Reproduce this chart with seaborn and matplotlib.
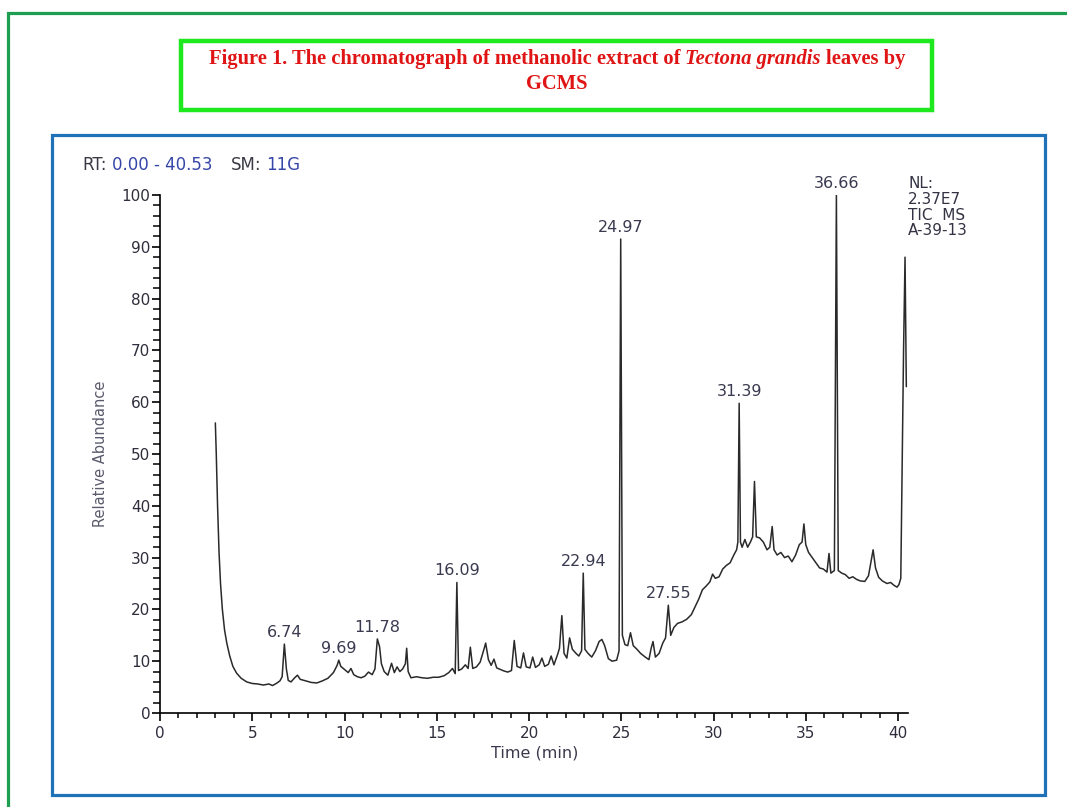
import numpy as np
import pandas as pd
import matplotlib
matplotlib.use("Agg")
import matplotlib.pyplot as plt
import seaborn as sns
from matplotlib.patches import Rectangle
from matplotlib.ticker import MultipleLocator

# ---------------- data ----------------
times = [3.00, 3.05, 3.12, 3.20, 3.28, 3.38, 3.50, 3.62, 3.78, 3.95, 4.15, 4.40, 4.70, 5.00,
         5.30, 5.60, 5.90, 6.10, 6.30, 6.50, 6.62, 6.74, 6.85, 6.95, 7.10, 7.30, 7.45, 7.60,
         7.90, 8.20, 8.50, 8.80, 9.10, 9.40, 9.60, 9.69, 9.80, 10.00, 10.20, 10.35, 10.50,
         10.70, 10.90, 11.10, 11.30, 11.50, 11.65, 11.78, 11.90, 12.00, 12.15, 12.35, 12.55,
         12.70, 12.85, 13.00, 13.15, 13.30, 13.37, 13.45, 13.60, 13.90, 14.20, 14.50, 14.80,
         15.10, 15.40, 15.65, 15.85, 16.00, 16.09, 16.18, 16.35, 16.55, 16.70, 16.82, 16.95,
         17.15, 17.35, 17.55, 17.65, 17.80, 17.95, 18.10, 18.25, 18.45, 18.65, 18.85, 19.05,
         19.20, 19.35, 19.55, 19.70, 19.85, 20.05, 20.20, 20.35, 20.55, 20.70, 20.85, 21.05,
         21.20, 21.35, 21.55, 21.65, 21.78, 21.90, 22.05, 22.20, 22.35, 22.55, 22.70, 22.85,
         22.94, 23.03, 23.20, 23.40, 23.60, 23.80, 23.95, 24.10, 24.30, 24.50, 24.75, 24.88,
         24.97, 25.06, 25.20, 25.35, 25.50, 25.65, 25.85, 26.05, 26.30, 26.50, 26.62, 26.72,
         26.85, 27.05, 27.25, 27.40, 27.55, 27.68, 27.85, 28.05, 28.30, 28.55, 28.80, 29.00,
         29.20, 29.40, 29.60, 29.80, 29.95, 30.10, 30.30, 30.50, 30.70, 30.90, 31.10, 31.25,
         31.32, 31.39, 31.46, 31.55, 31.70, 31.85, 32.00, 32.12, 32.22, 32.32, 32.50, 32.70,
         32.90, 33.05, 33.18, 33.28, 33.45, 33.65, 33.85, 34.05, 34.25, 34.45, 34.65, 34.80,
         34.90, 35.00, 35.15, 35.35, 35.55, 35.75, 35.95, 36.15, 36.26, 36.36, 36.55, 36.66,
         36.76, 36.95, 37.15, 37.35, 37.55, 37.75, 37.95, 38.20, 38.40, 38.55, 38.65, 38.78,
         38.95, 39.15, 39.40, 39.60, 39.80, 39.95, 40.05, 40.15, 40.30, 40.38, 40.45]
abundance = [56.0, 50.0, 40.0, 31.0, 25.0, 20.0, 16.0, 13.5, 11.0, 9.0, 7.7, 6.7, 6.0, 5.7,
             5.6, 5.4, 5.6, 5.3, 5.7, 6.2, 7.0, 13.3, 8.5, 6.3, 6.0, 6.8, 7.3, 6.5,
             6.2, 5.9, 5.8, 6.2, 6.7, 7.8, 9.2, 10.2, 9.0, 8.4, 7.8, 8.6, 7.4,
             7.0, 6.8, 7.1, 7.9, 7.4, 8.5, 14.3, 12.8, 9.5, 8.0, 7.3, 9.6,
             7.8, 8.9, 8.0, 8.5, 9.5, 12.5, 8.0, 6.8, 7.0, 6.8, 6.7, 6.9,
             6.9, 7.2, 7.8, 8.6, 7.6, 25.2, 8.2, 8.5, 9.3, 8.6, 12.7, 8.6,
             8.9, 9.8, 12.2, 13.5, 10.3, 9.2, 10.4, 8.7, 8.4, 8.1, 7.9, 8.2,
             14.0, 9.0, 8.7, 11.6, 8.9, 8.7, 10.8, 8.8, 9.3, 10.6, 9.0, 9.4,
             11.0, 9.3, 11.3, 12.5, 18.8, 11.5, 10.6, 14.5, 12.3, 11.5, 11.0, 12.0,
             27.0, 12.3, 11.5, 10.8, 12.0, 13.8, 14.2, 13.0, 10.5, 10.0, 10.2, 12.0,
             91.5, 15.0, 13.2, 13.0, 15.5, 13.0, 12.3, 11.5, 10.8, 10.3, 12.5, 13.8,
             10.8, 11.5, 13.5, 14.5, 20.8, 15.0, 16.5, 17.3, 17.6, 18.1, 19.0, 20.5,
             22.0, 23.8, 24.5, 25.3, 26.8, 26.0, 26.3, 27.8, 28.5, 29.0, 30.5, 31.5,
             33.0, 59.8, 33.0, 32.0, 33.5, 32.0, 33.0, 34.0, 44.7, 34.0, 33.8, 33.0,
             31.5, 32.0, 36.0, 31.5, 30.5, 31.0, 30.0, 30.3, 29.2, 30.5, 32.5, 33.0,
             36.5, 32.5, 31.0, 30.0, 29.0, 28.0, 27.8, 27.2, 30.8, 27.0, 27.5, 100.0,
             27.5, 27.0, 26.7, 26.0, 26.3, 25.8, 25.5, 25.4, 26.5, 29.5, 31.5, 28.0,
             26.2, 25.5, 25.0, 25.2, 24.6, 24.3, 24.8, 26.0, 70.0, 88.0, 63.0]

peak_labels = ["6.74", "9.69", "11.78", "16.09", "22.94", "24.97", "27.55", "31.39", "36.66"]
peak_times = [6.74, 9.69, 11.78, 16.09, 22.94, 24.97, 27.55, 31.39, 36.66]
peak_heights = [13.3, 10.2, 14.3, 25.2, 27.0, 91.5, 20.8, 59.8, 100.0]

x_ticks = [0, 5, 10, 15, 20, 25, 30, 35, 40]
y_ticks = [0, 10, 20, 30, 40, 50, 60, 70, 80, 90, 100]
info_lines = ["NL:", "2.37E7", "TIC  MS", "A-39-13"]

# ---------------- figure ----------------
W, H = 1067, 807
sns.set_theme(style="ticks")
plt.rcParams["font.family"] = ["DejaVu Sans"]
plt.rcParams["axes.facecolor"] = "white"
plt.rcParams["figure.facecolor"] = "white"

fig = plt.figure(figsize=(W / 100, H / 100), dpi=100)


def fx(px):
    return px / W


def fy(py):
    return 1 - py / H


# frames
fig.patches.append(Rectangle((fx(8), fy(850)), fx(1120) - fx(8), fy(13) - fy(850),
                             transform=fig.transFigure, fill=False, ec="#1d9e50", lw=2.3))
fig.patches.append(Rectangle((fx(52), fy(795)), fx(1045) - fx(52), fy(135) - fy(795),
                             transform=fig.transFigure, fill=False, ec="#1f72b8", lw=2.3))
fig.patches.append(Rectangle((fx(181), fy(110)), fx(932) - fx(181), fy(41) - fy(110),
                             transform=fig.transFigure, fill=False, ec="#1ee81e", lw=3.2))

ax_l, ax_r, ax_t, ax_b = 160, 907.8, 195, 713
ax = fig.add_axes([fx(ax_l), fy(ax_b), (ax_r - ax_l) / W, (ax_b - ax_t) / H])

df = pd.DataFrame({"Time": times, "Abundance": abundance})
sns.lineplot(data=df, x="Time", y="Abundance", ax=ax, color="#2a2a2a", lw=1.1,
             sort=False, estimator=None)

ax.set_xlim(0, 40.53)
ax.set_ylim(0, 100)
ax.set_xticks(x_ticks)
ax.set_yticks(y_ticks)
ax.xaxis.set_minor_locator(MultipleLocator(1))
ax.yaxis.set_minor_locator(MultipleLocator(2))
for s in ["top", "right"]:
    ax.spines[s].set_visible(False)
for s in ["left", "bottom"]:
    ax.spines[s].set_color("black")
    ax.spines[s].set_linewidth(1.2)

tick_col = "#2e2e3c"
ax.tick_params(axis="x", which="major", direction="out", length=6, width=1.2, color="black",
               labelsize=11, labelcolor=tick_col, pad=3)
ax.tick_params(axis="x", which="minor", direction="out", length=3.5, width=1.1, color="black")
ax.tick_params(axis="y", which="major", direction="out", length=6, width=1.2, color="black",
               labelsize=11, labelcolor=tick_col, pad=1)
ax.tick_params(axis="y", which="minor", direction="out", length=5, width=1.1, color="black")

ax.set_xlabel("Time (min)", fontsize=11.5, color="#3a3a4c")
ax.set_ylabel("Relative Abundance", fontsize=10.5, color="#5a5a6c")
ax.xaxis.set_label_coords((535 - ax_l) / (ax_r - ax_l), -(746 - ax_b) / (ax_b - ax_t))
ax.yaxis.set_label_coords(-(160 - 108) / (ax_r - ax_l), 0.5)

for lab, t, h in zip(peak_labels, peak_times, peak_heights):
    ax.annotate(lab, xy=(t, h), xytext=(0, 3), textcoords="offset points",
                ha="center", va="bottom", fontsize=11.5, color="#3a3a50",
                annotation_clip=False)

# info block at right
for i, line in enumerate(info_lines):
    fig.text(fx(908), fy(184 + i * 15.5), line, ha="left", va="center",
             fontsize=11, color="#333344")

renderer = fig.canvas.get_renderer()


def text_width(s, **kw):
    t = fig.text(0, 0, s, **kw)
    w = t.get_window_extent(renderer).width
    t.remove()
    return w


def draw_pieces(pieces, x, y, ha="left"):
    widths = [text_width(s, **kw) for s, kw, _ in pieces]
    gaps = []
    for s, kw, g in pieces:
        sp = text_width("a a", **kw) - text_width("aa", **kw)
        gaps.append(sp * g)
    total = sum(widths) + sum(gaps[:-1])
    start = x - total / 2 if ha == "center" else x
    cur = start
    for (s, kw, g), w, gp in zip(pieces, widths, gaps):
        fig.text(fx(cur), fy(y), s, ha="left", va="baseline", **kw)
        cur += w + gp


# RT header
dark = dict(fontsize=12, color="#3a3a44")
blue = dict(fontsize=12, color="#3646a8")
draw_pieces([("RT:", dark, 1), ("0.00 - 40.53", blue, 3.5), ("SM:", dark, 1), ("11G", blue, 0)],
            82, 170)

# title
red = "#e01414"
tb = dict(fontsize=14.8, color=red, fontweight="bold", family="Liberation Serif")
ti = dict(fontsize=14.8, color=red, fontweight="bold", fontstyle="italic", family="Liberation Serif")
draw_pieces([("Figure 1. The chromatograph of methanolic extract of", tb, 1),
             ("Tectona grandis", ti, 1),
             ("leaves by", tb, 0)], 557, 64, ha="center")
fig.text(fx(557), fy(89), "GCMS", ha="center", va="baseline", **tb)

fig.savefig("out.png", dpi=100)
